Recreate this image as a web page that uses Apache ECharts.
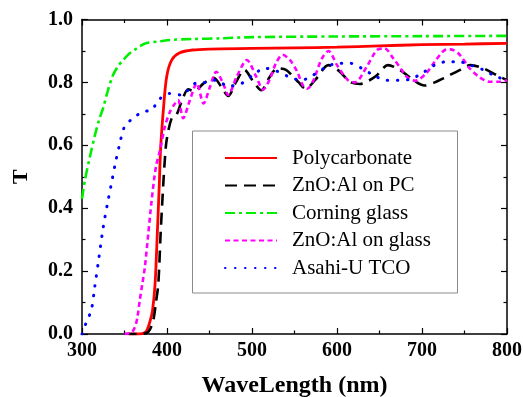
<!DOCTYPE html>
<html>
<head>
<meta charset="UTF-8">
<title>T vs WaveLength</title>
<script src="https://cdn.jsdelivr.net/npm/echarts@6/dist/echarts.min.js"></script>
<style>
  html, body { margin: 0; padding: 0; background: #fff; }
  #main { width: 523px; height: 397px; }
</style>
</head>
<body>
<div id="main"></div>
<script>
// 数据：波长 (nm) 与透过率 T
var pcWave = [355, 365, 372, 376, 380, 383, 386, 388.6, 391, 392.5, 395.7, 399.6, 405.5, 415, 430, 450, 500, 550, 600, 650, 700, 750, 800];
var pcT    = [0, 0, 0.002, 0.01, 0.04, 0.075, 0.16, 0.32, 0.48, 0.59, 0.712, 0.818, 0.871, 0.894, 0.903, 0.906, 0.908, 0.910, 0.912, 0.916, 0.920, 0.922, 0.924];

var znoPcWave = [350, 365, 376, 380, 384, 387, 389.8, 392.5, 395.7, 397.6, 399.6, 405.5, 411, 418, 425, 432, 443, 455, 464, 472, 481, 491, 501, 511, 521, 530, 540, 548, 555, 563, 575, 590, 603, 615, 627, 637, 647, 660, 674, 690, 703, 715, 725, 745, 757, 772, 788, 800];
var znoPcT    = [0, 0, 0.003, 0.015, 0.045, 0.1, 0.16, 0.32, 0.48, 0.56, 0.617, 0.686, 0.696, 0.745, 0.778, 0.772, 0.797, 0.815, 0.785, 0.757, 0.8, 0.84, 0.805, 0.775, 0.818, 0.845, 0.84, 0.82, 0.8, 0.78, 0.81, 0.855, 0.835, 0.802, 0.795, 0.805, 0.823, 0.855, 0.84, 0.807, 0.79, 0.8, 0.813, 0.84, 0.855, 0.845, 0.823, 0.807];

var glassWave = [300, 303.5, 309, 315, 320, 325, 330, 336, 342, 348, 355, 360, 368, 376, 390, 404, 430, 462, 500, 600, 700, 800];
var glassT    = [0.43, 0.49, 0.56, 0.63, 0.68, 0.72, 0.77, 0.82, 0.85, 0.87, 0.89, 0.9, 0.915, 0.925, 0.93, 0.935, 0.938, 0.94, 0.944, 0.946, 0.947, 0.948];

var znoGlassWave = [350, 358, 362, 365, 368, 371, 374, 378, 382, 387, 391.8, 397.6, 403.5, 409.4, 413, 419, 427, 435, 443, 450.6, 458, 466, 472, 482, 494, 505, 513, 521, 528, 536, 545, 553, 560, 565, 572, 582, 590, 600, 613, 621, 635, 647, 656, 666, 676, 682, 692, 705, 715, 727, 733, 743, 756, 768, 780, 792, 800];
var znoGlassT    = [0, 0.005, 0.02, 0.05, 0.108, 0.16, 0.214, 0.32, 0.426, 0.532, 0.585, 0.66, 0.707, 0.733, 0.744, 0.686, 0.744, 0.797, 0.733, 0.786, 0.834, 0.797, 0.76, 0.818, 0.871, 0.818, 0.777, 0.81, 0.86, 0.888, 0.87, 0.835, 0.79, 0.78, 0.805, 0.875, 0.9, 0.855, 0.807, 0.8, 0.85, 0.903, 0.908, 0.877, 0.84, 0.818, 0.805, 0.829, 0.866, 0.903, 0.905, 0.892, 0.845, 0.816, 0.802, 0.802, 0.807];

var asahiWave = [300, 305.5, 311, 315, 319, 325, 330, 334, 339, 344, 350, 360, 372, 382, 390, 403, 417, 433, 445, 458, 472, 488, 501, 515, 529, 545, 558, 570, 588, 602, 615, 629, 643, 658, 672, 686, 700, 715, 729, 743, 757, 772, 786, 800];
var asahiT    = [0, 0.04, 0.076, 0.15, 0.225, 0.34, 0.415, 0.47, 0.54, 0.6, 0.659, 0.686, 0.707, 0.712, 0.744, 0.765, 0.76, 0.797, 0.8, 0.807, 0.788, 0.797, 0.823, 0.845, 0.836, 0.816, 0.807, 0.82, 0.85, 0.861, 0.861, 0.845, 0.823, 0.807, 0.807, 0.81, 0.829, 0.855, 0.866, 0.866, 0.855, 0.84, 0.82, 0.807];

var xTicks = [300, 400, 500, 600, 700, 800];
var yTicks = [0.0, 0.2, 0.4, 0.6, 0.8, 1.0];

var serif = '"Liberation Serif", "Times New Roman", serif';

function pairs(xs, ys) {
  var out = [];
  for (var i = 0; i < xs.length; i++) out.push([xs[i], ys[i]]);
  return out;
}

function frameAxis(isMain, pos, min, max, step) {
  return {
    type: 'value',
    position: pos,
    min: min,
    max: max,
    interval: step,
    axisLine: { show: true, onZero: false, lineStyle: { color: '#000', width: 1.5 } },
    axisTick: { show: true, inside: true, length: 6, lineStyle: { color: '#000', width: 1.2 } },
    minorTick: { show: true, splitNumber: 2, length: 3.5, lineStyle: { color: '#000', width: 1.2 } },
    splitLine: { show: false },
    axisLabel: { show: isMain }
  };
}

var xMain = frameAxis(true, 'bottom', xTicks[0], xTicks[xTicks.length - 1], 100);
xMain.axisLabel = { show: true, margin: 7, color: '#000', fontFamily: serif, fontWeight: 'bold', fontSize: 20 };
xMain.name = 'WaveLength (nm)';
xMain.nameLocation = 'middle';
xMain.nameGap = 40;
xMain.nameTextStyle = { color: '#000', fontFamily: serif, fontWeight: 'bold', fontSize: 24 };

var yMain = frameAxis(true, 'left', yTicks[0], yTicks[yTicks.length - 1], 0.2);
yMain.axisLabel = {
  show: true, margin: 9, color: '#000', fontFamily: serif, fontWeight: 'bold', fontSize: 20,
  formatter: function (v) { return v.toFixed(1); }
};
yMain.name = 'T';
yMain.nameLocation = 'middle';
yMain.nameGap = 50;
yMain.nameTextStyle = { color: '#000', fontFamily: serif, fontWeight: 'bold', fontSize: 22 };

var myChart = echarts.init(document.getElementById('main'));

var option = {
  animation: false,
  backgroundColor: '#fff',
  grid: { left: 82, right: 16, top: 19.5, bottom: 63, containLabel: false, outerBoundsMode: 'none' },
  xAxis: [xMain, frameAxis(false, 'top', 300, 800, 100)],
  yAxis: [yMain, frameAxis(false, 'right', 0, 1, 0.2)],
  graphic: [{
    type: 'rect',
    shape: { x: 192.5, y: 131, width: 265, height: 162 },
    style: { fill: 'none', stroke: '#8c8c8c', lineWidth: 1 },
    z: 10
  }],
  legend: {
    orient: 'vertical',
    left: 224,
    top: 147,
    padding: 0,
    itemWidth: 52,
    itemHeight: 14,
    itemGap: 5.5,
    itemStyle: { color: 'transparent', borderWidth: 0 },
    textStyle: { color: '#000', fontFamily: serif, fontSize: 21, lineHeight: 22, padding: [0, 0, 0, 10] },
    data: ['Polycarbonate', 'ZnO:Al on PC', 'Corning glass', 'ZnO:Al on glass', 'Asahi-U TCO']
  },
  series: [
    {
      name: 'Polycarbonate', type: 'line', symbol: 'none', smooth: 0.3,
      lineStyle: { color: '#ff0000', width: 2.8 }, itemStyle: { color: '#ff0000' },
      data: pairs(pcWave, pcT)
    },
    {
      name: 'ZnO:Al on PC', type: 'line', symbol: 'none', smooth: 0.3,
      lineStyle: { color: '#000', width: 2.6, type: [12, 7] }, itemStyle: { color: '#000' },
      data: pairs(znoPcWave, znoPcT)
    },
    {
      name: 'Corning glass', type: 'line', symbol: 'none', smooth: 0.3,
      lineStyle: { color: '#00ee00', width: 2.6, type: [10, 4, 3, 4] }, itemStyle: { color: '#00ee00' },
      data: pairs(glassWave, glassT)
    },
    {
      name: 'ZnO:Al on glass', type: 'line', symbol: 'none', smooth: 0.3,
      lineStyle: { color: '#ff00ff', width: 2.6, type: [5, 3.5] }, itemStyle: { color: '#ff00ff' },
      data: pairs(znoGlassWave, znoGlassT)
    },
    {
      name: 'Asahi-U TCO', type: 'line', symbol: 'none', smooth: 0.3,
      lineStyle: { color: '#0000ff', width: 3, type: [0.5, 9.5], cap: 'round' }, itemStyle: { color: '#0000ff' },
      data: pairs(asahiWave, asahiT)
    }
  ]
};
myChart.setOption(option);
</script>
</body>
</html>
